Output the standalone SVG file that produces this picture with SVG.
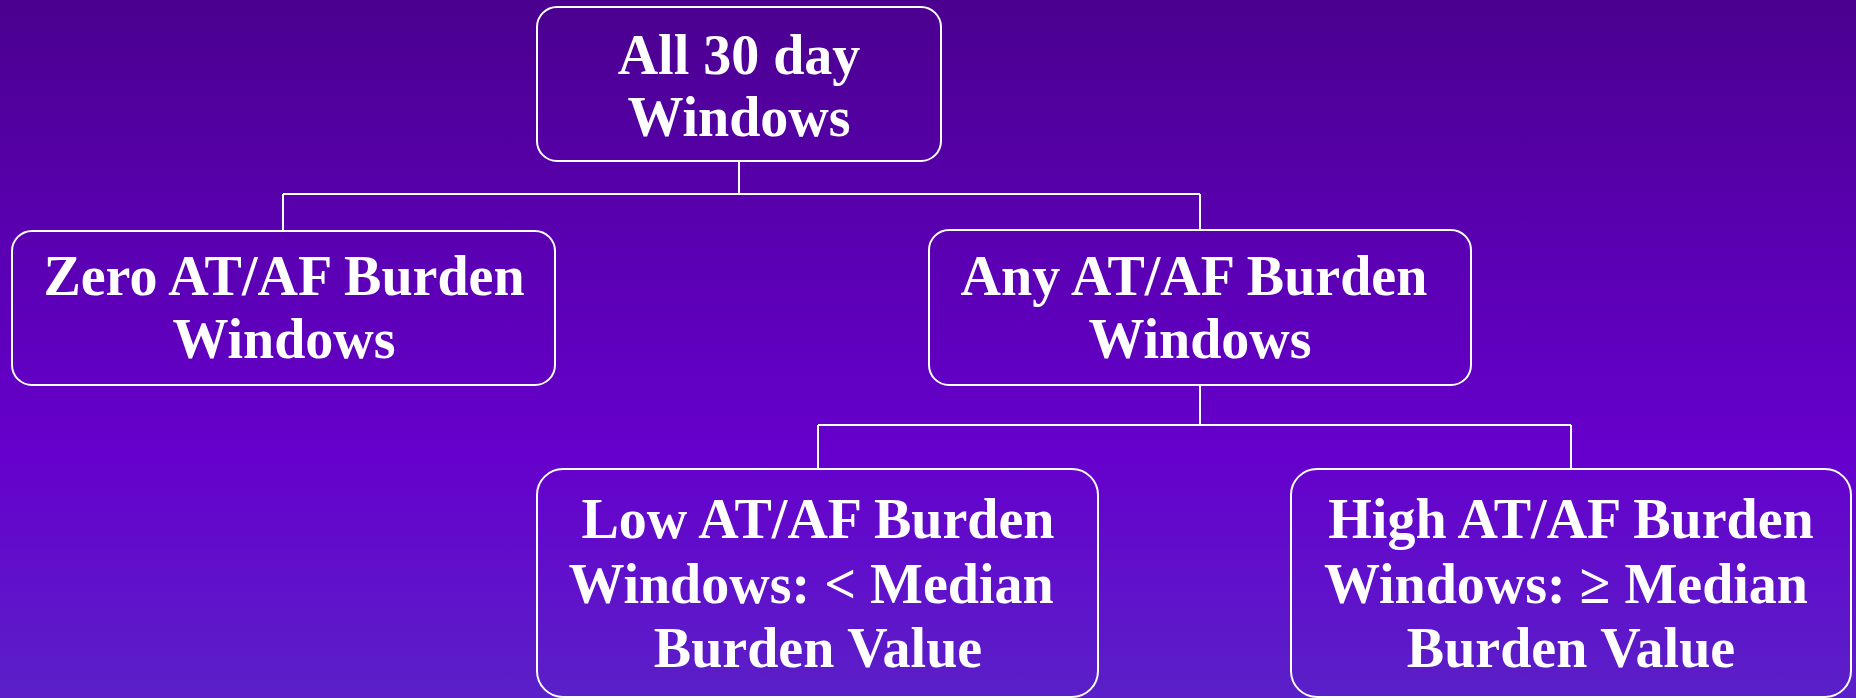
<svg xmlns="http://www.w3.org/2000/svg" width="1856" height="698" viewBox="0 0 1856 698">
  <defs>
    <linearGradient id="bg" x1="0" y1="0" x2="0" y2="1">
      <stop offset="0" stop-color="#4B008F"/>
      <stop offset="0.3" stop-color="#5800AD"/>
      <stop offset="0.65" stop-color="#6600CC"/>
      <stop offset="1" stop-color="#5A20C8"/>
    </linearGradient>
    <style>
      .box { fill: none; stroke: #FFFFFF; stroke-width: 2; }
      .lbl { fill: #FFFFFF; font-family: "Liberation Serif", "Times New Roman", serif; font-weight: bold; font-size: 56px; text-anchor: middle; }
      .wire { fill: none; stroke: #FFFFFF; stroke-width: 2; }
    </style>
  </defs>

  <rect x="0" y="0" width="1856" height="698" fill="url(#bg)"/>

  <!-- tree connectors -->
  <g id="connectors">
    <path class="wire" d="M739,162 V194 M283,194 H1200 M283,194 V231 M1200,194 V230"/>
    <path class="wire" d="M1200,385 V425 M818,425 H1571 M818,425 V469 M1571,425 V469"/>
  </g>

  <g id="node-all">
    <rect class="box" x="537" y="7" width="404" height="154" rx="20"/>
    <text class="lbl" x="739" y="74">All 30 day</text>
    <text class="lbl" x="739" y="136">Windows</text>
  </g>

  <g id="node-zero">
    <rect class="box" x="12" y="231" width="543" height="154" rx="20"/>
    <text class="lbl" x="284" y="295">Zero AT/AF Burden</text>
    <text class="lbl" x="284" y="358">Windows</text>
  </g>

  <g id="node-any">
    <rect class="box" x="929" y="230" width="542" height="155" rx="20"/>
    <text class="lbl" x="1194" y="295">Any AT/AF Burden</text>
    <text class="lbl" x="1200" y="358">Windows</text>
  </g>

  <g id="node-low">
    <rect class="box" x="537" y="469" width="561" height="228" rx="26"/>
    <text class="lbl" x="818" y="538">Low AT/AF Burden</text>
    <text class="lbl" x="811" y="603">Windows: &lt; Median</text>
    <text class="lbl" x="818" y="667">Burden Value</text>
  </g>

  <g id="node-high">
    <rect class="box" x="1291" y="469" width="560" height="228" rx="26"/>
    <text class="lbl" x="1571" y="538">High AT/AF Burden</text>
    <text class="lbl" x="1566" y="603">Windows: ≥ Median</text>
    <text class="lbl" x="1571" y="667">Burden Value</text>
  </g>
</svg>
